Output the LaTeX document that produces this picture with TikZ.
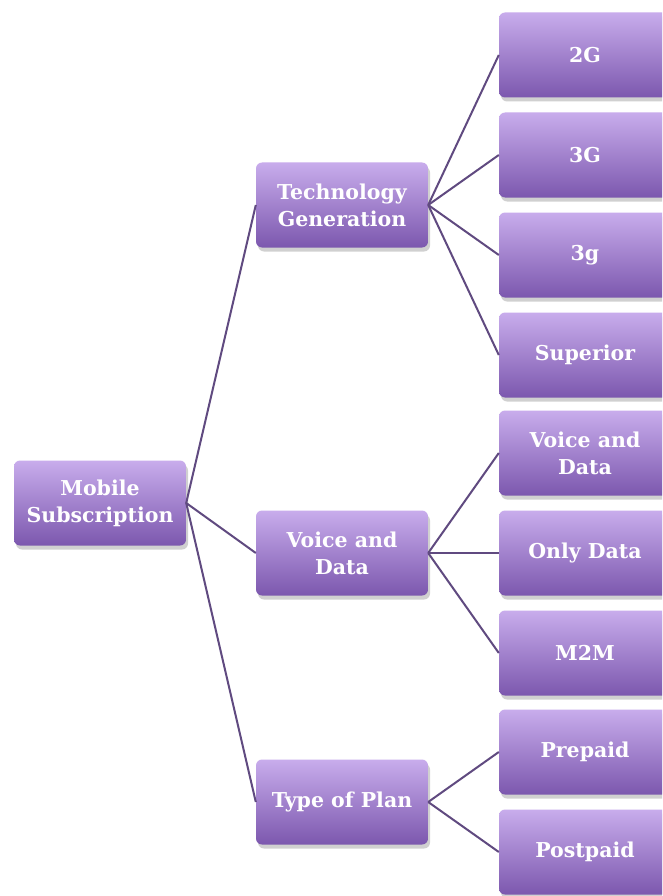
\documentclass[tikz,border=0pt]{standalone}
\usepackage{fontspec}
\setmainfont{DejaVu Serif}
\usetikzlibrary{shadows}
\definecolor{boxtop}{RGB}{200,172,236}
\definecolor{boxbot}{RGB}{124,88,174}
\definecolor{linkcol}{RGB}{96,74,128}
\tikzset{
  box/.style={rectangle, rounded corners=6pt, minimum width=172pt, minimum height=85pt,
    top color=boxtop, bottom color=boxbot, draw=none, align=center, text=white,
    font=\fontsize{20.5}{27}\selectfont\bfseries,
    drop shadow={shadow xshift=2pt, shadow yshift=-4pt, opacity=0.3, fill=black!60}},
  link/.style={draw=linkcol, line width=2pt}
}
\begin{document}
\begin{tikzpicture}[x=1pt,y=-1pt]
\useasboundingbox (0,0) rectangle (662,896);
\clip (0,0) rectangle (662,896);
\fill[white] (0,0) rectangle (662,896);
\node[box] (root) at (100,503) {Mobile\\Subscription};
\node[box] (tech) at (342,205) {Technology\\Generation};
\node[box] (vd) at (342,553) {Voice and\\Data};
\node[box] (plan) at (342,802) {Type of Plan};
\node[box] (g2) at (585,55) {2G};
\node[box] (g3) at (585,155) {3G};
\node[box] (g3s) at (585,255) {3g};
\node[box] (sup) at (585,355) {Superior};
\node[box] (vd2) at (585,453) {Voice and\\Data};
\node[box] (od) at (585,553) {Only Data};
\node[box] (m2m) at (585,653) {M2M};
\node[box] (pre) at (585,752) {Prepaid};
\node[box] (post) at (585,852) {Postpaid};
\foreach \c in {tech,vd,plan} \draw[link] (root.east) -- (\c.west);
\foreach \c in {g2,g3,g3s,sup} \draw[link] (tech.east) -- (\c.west);
\foreach \c in {vd2,od,m2m} \draw[link] (vd.east) -- (\c.west);
\foreach \c in {pre,post} \draw[link] (plan.east) -- (\c.west);
\end{tikzpicture}
\end{document}
